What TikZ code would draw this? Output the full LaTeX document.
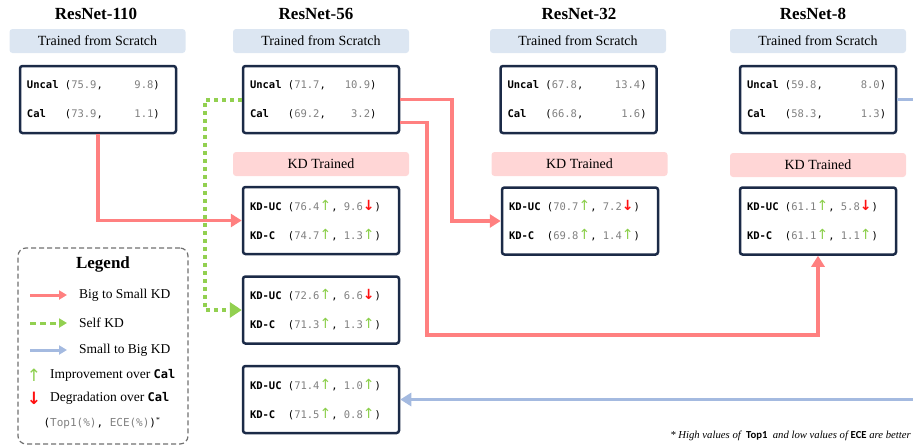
\documentclass[tikz,border=0pt]{standalone}
\usepackage{fontspec}
\setmainfont{Liberation Serif}
\setmonofont{DejaVu Sans Mono}
\newfontfamily\arrowfont{DejaVu Sans}
\newfontfamily\notefont{Carlito}
\usetikzlibrary{arrows.meta,calc}

\definecolor{navy}{HTML}{1B2A47}
\definecolor{valgray}{HTML}{808080}
\definecolor{bannerblue}{HTML}{DCE6F2}
\definecolor{bannerpink}{HTML}{FFD6D6}
\definecolor{redline}{HTML}{FF8080}
\definecolor{greenline}{HTML}{92D050}
\definecolor{blueline}{HTML}{A4BAE0}
\definecolor{upgreen}{HTML}{8CCF4D}
\definecolor{dnred}{HTML}{FF1010}
\definecolor{legendgray}{HTML}{707070}

\newcommand{\lbl}[1]{\textbf{#1}}
\newcommand{\val}[1]{\textcolor{valgray}{#1}}
\newcommand{\gap}[1]{\hspace*{#1\fontcharwd\font`0}}
\newcommand{\upmark}[1][14]{{\arrowfont\fontsize{#1}{#1}\selectfont\textcolor{upgreen}{↑}}}
\newcommand{\dnmark}[1][14]{{\arrowfont\bfseries\fontsize{#1}{#1}\selectfont\textcolor{dnred}{↓}}}

\tikzset{
  nettitle/.style = {font=\bfseries\fontsize{17}{20}\selectfont},
  banner/.style = {rounded corners=3pt, minimum width=176pt,
                   minimum height=24pt, inner sep=0pt,
                   font=\fontsize{14}{16}\selectfont},
  scratchtag/.style = {banner, fill=bannerblue},
  kdtag/.style = {banner, fill=bannerpink},
  resbox/.style = {draw=navy, line width=2.5pt, rounded corners=2.5pt,
                   text width=142pt, inner xsep=7pt, minimum height=67pt,
                   align=left, font=\ttfamily\fontsize{10.5}{29}\selectfont},
  bigsmall/.style = {draw=redline, line width=3.5pt,
                     -{Triangle[length=11pt,width=13pt]}},
  selfkd/.style = {draw=greenline, line width=4pt,
                   dash pattern=on 4pt off 4pt,
                   -{Triangle[length=12pt,width=15pt]}},
  smallbig/.style = {draw=blueline, line width=3.5pt,
                     -{Triangle[length=11pt,width=13pt]}},
  legtip/.style = {-{Triangle[length=8pt,width=9pt]}, line width=3pt},
  legtext/.style = {anchor=west, inner sep=0pt,
                    font=\fontsize{13.5}{16}\selectfont},
}

\begin{document}
\begin{tikzpicture}[x=1pt, y=-1pt]
\useasboundingbox (0,0) rectangle (913,447);

% column titles and tags
\node[nettitle] (t110) at (96,14) {ResNet-110};
\node[nettitle] (t56) at (316,14) {ResNet-56};
\node[nettitle] (t32) at (579,14) {ResNet-32};
\node[nettitle] (t8) at (813,14) {ResNet-8};

\node[scratchtag] (b110) at (97.5,41) {Trained from Scratch};
\node[scratchtag] (b56) at (321,41) {Trained from Scratch};
\node[scratchtag] (b32) at (578,41) {Trained from Scratch};
\node[scratchtag] (b8) at (818,41) {Trained from Scratch};

\node[kdtag] (k56) at (321,164) {KD Trained};
\node[kdtag] (k32) at (579.5,164) {KD Trained};
\node[kdtag] (k8) at (818,165) {KD Trained};

% scratch boxes
\node[resbox] (s110) at (98,99.5)
  {\lbl{Uncal}\gap{1}(\val{75.9},\gap{5}\val{9.8})\\\lbl{Cal}\gap{3}(\val{73.9},\gap{5}\val{1.1})};
\node[resbox] (s56) at (321,99.5)
  {\lbl{Uncal}\gap{1}(\val{71.7},\gap{3}\val{10.9})\\\lbl{Cal}\gap{3}(\val{69.2},\gap{4}\val{3.2})};
\node[resbox] (s32) at (578.5,99.5)
  {\lbl{Uncal}\gap{1}(\val{67.8},\gap{5}\val{13.4})\\\lbl{Cal}\gap{3}(\val{66.8},\gap{6}\val{1.6})};
\node[resbox] (s8) at (818,99.5)
  {\lbl{Uncal}\gap{1}(\val{59.8},\gap{6}\val{8.0})\\\lbl{Cal}\gap{3}(\val{58.3},\gap{6}\val{1.3})};

% KD boxes
\node[resbox] (kd56a) at (321,220.5)
  {\lbl{KD-UC}\gap{1}(\val{76.4}\upmark,\gap{1}\val{9.6}\dnmark)\\\lbl{KD-C}\gap{2}(\val{74.7}\upmark,\gap{1}\val{1.3}\upmark)};
\node[resbox] (kd56b) at (321,310)
  {\lbl{KD-UC}\gap{1}(\val{72.6}\upmark,\gap{1}\val{6.6}\dnmark)\\\lbl{KD-C}\gap{2}(\val{71.3}\upmark,\gap{1}\val{1.3}\upmark)};
\node[resbox] (kd56c) at (321,399.5)
  {\lbl{KD-UC}\gap{1}(\val{71.4}\upmark,\gap{1}\val{1.0}\upmark)\\\lbl{KD-C}\gap{2}(\val{71.5}\upmark,\gap{1}\val{0.8}\upmark)};
\node[resbox] (kd32) at (580,221)
  {\lbl{KD-UC}\gap{1}(\val{70.7}\upmark,\gap{1}\val{7.2}\dnmark)\\\lbl{KD-C}\gap{2}(\val{69.8}\upmark,\gap{1}\val{1.4}\upmark)};
\node[resbox] (kd8) at (818,221)
  {\lbl{KD-UC}\gap{1}(\val{61.1}\upmark,\gap{1}\val{5.8}\dnmark)\\\lbl{KD-C}\gap{2}(\val{61.1}\upmark,\gap{1}\val{1.1}\upmark)};

% connectors
\coordinate (turnA) at (452,0);
\coordinate (turnB) at (427,335);
\coordinate (turnC) at (205,0);
\coordinate (edgeR) at (914,0);
\coordinate (s56low) at ($(s56.east)+(0,23)$);

\draw[bigsmall] (s110.south) |- (kd56a.west);
\draw[bigsmall] (s56.east) -- (s56.east -| turnA) |- (kd32.west);
\draw[bigsmall] (s56low) -| (turnB) -| (kd8.south);
\draw[selfkd] (s56.west) -- (s56.west -| turnC) |- (kd56b.west);
\draw[smallbig,-] (s8.east) -- (s8.east -| edgeR);
\draw[smallbig] (kd56c.east -| edgeR) -- (kd56c.east);

% legend
\node[draw=legendgray, line width=1.2pt, dash pattern=on 5pt off 3pt,
      rounded corners=8pt, minimum width=170pt, minimum height=196pt]
      (legend) at (103,346) {};
\node[font=\bfseries\fontsize{17}{20}\selectfont] (legtitle) at (103,264) {Legend};

\coordinate (la) at (30,295);   \coordinate (lb) at (67,295);
\coordinate (lc) at (30,323);   \coordinate (ld) at (67,323);
\coordinate (le) at (30,350);   \coordinate (lf) at (67,350);
\draw[legtip, redline] (la) -- (lb);
\draw[legtip, greenline, dash pattern=on 6pt off 4pt] (lc) -- (ld);
\draw[legtip, blueline] (le) -- (lf);
\node[legtext] (lt1) at (79,295) {Big to Small KD};
\node[legtext] (lt2) at (79,323) {Self KD};
\node[legtext] (lt3) at (79,350) {Small to Big KD};

\node[inner sep=0pt] (lup) at (34,375) {\upmark[17]};
\node[inner sep=0pt] (ldn) at (34,398) {\dnmark[17]};
\node[legtext] (lt4) at (50,375)
  {Improvement over {\ttfamily\bfseries\fontsize{12}{14}\selectfont Cal}};
\node[legtext] (lt5) at (50,398)
  {Degradation over {\ttfamily\bfseries\fontsize{12}{14}\selectfont Cal}};
\node[font=\ttfamily\fontsize{11}{12}\selectfont] (lunits) at (102,423)
  {(\val{Top1(\%)},\gap{1}\val{ECE(\%)})\textsuperscript{\rmfamily *}};

% footnote
\node[anchor=east, inner sep=0pt, font=\fontsize{10.7}{12}\selectfont] (note) at (911,436)
  {\itshape * High values of \ {\notefont\upshape\bfseries Top1} \ and low values of
   {\notefont\upshape\bfseries ECE} are better};
\end{tikzpicture}
\end{document}
